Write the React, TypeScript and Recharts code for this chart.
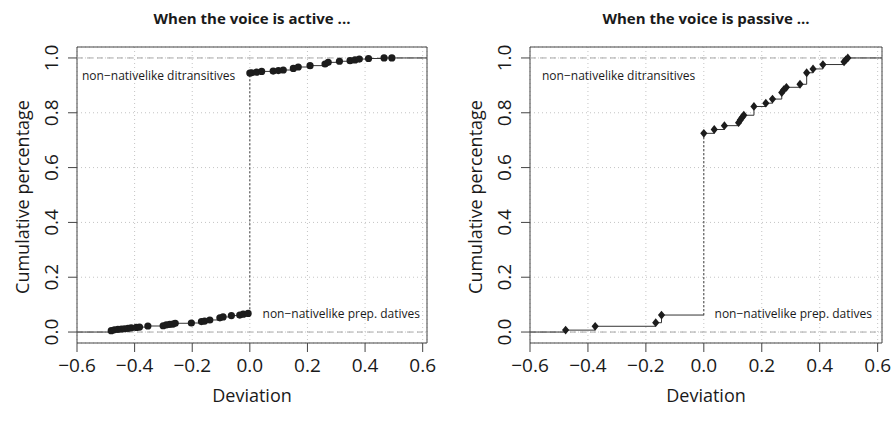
import React from 'react';
import { LineChart, Line, XAxis, YAxis, CartesianGrid, ReferenceLine, ReferenceArea } from 'recharts';

// ECDF of deviations
const activeNegX = [-0.481, -0.47, -0.458, -0.446, -0.435, -0.423, -0.412, -0.394, -0.383, -0.354, -0.301, -0.29, -0.278, -0.267, -0.259, -0.203, -0.168, -0.157, -0.139, -0.104, -0.093, -0.064, -0.035, -0.023, -0.006];
const activeNegF = [0.005, 0.008, 0.01, 0.011, 0.012, 0.013, 0.015, 0.017, 0.018, 0.022, 0.023, 0.026, 0.028, 0.029, 0.032, 0.033, 0.038, 0.04, 0.044, 0.052, 0.055, 0.06, 0.062, 0.065, 0.068];
const activePosX = [0.0, 0.006, 0.023, 0.041, 0.081, 0.099, 0.116, 0.151, 0.168, 0.209, 0.261, 0.272, 0.311, 0.348, 0.365, 0.38, 0.412, 0.466, 0.493];
const activePosF = [0.945, 0.946, 0.948, 0.951, 0.952, 0.954, 0.956, 0.962, 0.967, 0.972, 0.978, 0.984, 0.988, 0.99, 0.993, 0.996, 0.998, 1.0, 1.0];

const passiveNegX = [-0.477, -0.375, -0.166, -0.146];
const passiveNegF = [0.007, 0.021, 0.034, 0.062];
const passivePosX = [0.0, 0.036, 0.071, 0.12, 0.126, 0.132, 0.138, 0.173, 0.214, 0.237, 0.269, 0.276, 0.285, 0.332, 0.355, 0.377, 0.411, 0.484, 0.49, 0.497];
const passivePosF = [0.725, 0.739, 0.753, 0.764, 0.774, 0.783, 0.791, 0.823, 0.835, 0.85, 0.874, 0.884, 0.893, 0.904, 0.946, 0.96, 0.976, 0.986, 0.993, 1.0];

const X_TICKS = [-0.6, -0.4, -0.2, 0, 0.2, 0.4, 0.6];
const Y_TICKS = [0, 0.2, 0.4, 0.6, 0.8, 1];
const X_DOMAIN: [number, number] = [-0.6, 0.615];
const Y_DOMAIN: [number, number] = [-0.04, 1.04];

const FONT = '"Open Sans", sans-serif';
const fmt = (v: number) => v.toFixed(1).replace('-', '\u2212');

const XTick = (props: any) => (
  <text x={props.x} y={props.y + 18} textAnchor="middle" fontSize={19} fontFamily={FONT} fill="#1a1a1a">
    {fmt(props.payload.value)}
  </text>
);

const YTick = (props: any) => {
  const x = props.x - 8;
  return (
    <text x={x} y={props.y} transform={`rotate(-90 ${x} ${props.y})`} textAnchor="middle" fontSize={19} fontFamily={FONT} fill="#1a1a1a">
      {fmt(props.payload.value)}
    </text>
  );
};

const circleDot = (props: any) => {
  if (props.payload.ext) return <g key={props.index} />;
  return <circle key={props.index} cx={props.cx} cy={props.cy} r={3.6} fill="#1c1c1c" />;
};

const diamondDot = (props: any) => {
  if (props.payload.ext) return <g key={props.index} />;
  const { cx, cy } = props;
  return (
    <polygon
      key={props.index}
      points={`${cx},${cy - 4.4} ${cx + 3.6},${cy} ${cx},${cy + 4.4} ${cx - 3.6},${cy}`}
      fill="#1c1c1c"
    />
  );
};

function Panel({ negX, negF, posX, posF, dot, yAxisWidth, rightMargin }: any) {
  const negData = [
    { x: X_DOMAIN[0], F: 0, ext: true },
    ...negX.map((x: number, i: number) => ({ x, F: negF[i] })),
    { x: 0, F: negF[negF.length - 1], ext: true },
  ];
  const posData = [
    ...posX.map((x: number, i: number) => ({ x, F: posF[i] })),
    { x: X_DOMAIN[1], F: 1, ext: true },
  ];
  return (
    <LineChart width={447} height={421} margin={{ top: 47, right: rightMargin, bottom: 0, left: 0 }}>
      <CartesianGrid stroke="#c4c4c4" strokeDasharray="1 3" />
      <XAxis
        type="number"
        dataKey="x"
        domain={X_DOMAIN}
        ticks={X_TICKS}
        allowDataOverflow
        height={78}
        tickSize={9}
        axisLine={false}
        tickLine={{ stroke: '#444' }}
        tick={<XTick />}
        interval={0}
      />
      <YAxis
        type="number"
        domain={Y_DOMAIN}
        ticks={Y_TICKS}
        allowDataOverflow
        width={yAxisWidth}
        tickSize={9}
        axisLine={false}
        tickLine={{ stroke: '#444' }}
        tick={<YTick />}
        interval={0}
      />
      <ReferenceLine y={0} stroke="#a8a8a8" strokeDasharray="6 4" />
      <ReferenceLine y={1} stroke="#a8a8a8" strokeDasharray="6 4" />
      <Line data={negData} dataKey="F" type="stepAfter" stroke="#333" strokeWidth={1} dot={dot} isAnimationActive={false} />
      <Line data={posData} dataKey="F" type="stepAfter" stroke="#333" strokeWidth={1} dot={dot} isAnimationActive={false} />
      <ReferenceLine
        segment={[{ x: 0, y: negF[negF.length - 1] }, { x: 0, y: posF[0] }]}
        stroke="#333"
        strokeDasharray="2 2"
      />
      <ReferenceArea x1={X_DOMAIN[0]} x2={X_DOMAIN[1]} y1={Y_DOMAIN[0]} y2={Y_DOMAIN[1]} fill="none" stroke="#444" strokeWidth={1} />
    </LineChart>
  );
}

export default function App() {
  const txt = { fontFamily: FONT, fill: '#1a1a1a' };
  return (
    <div style={{ position: 'absolute', left: 0, top: 0, width: 894, height: 421, background: '#fff' }}>
      <div style={{ position: 'absolute', left: 0, top: 0 }}>
        <Panel negX={activeNegX} negF={activeNegF} posX={activePosX} posF={activePosF} dot={circleDot} yAxisWidth={77} rightMargin={20} />
      </div>
      <div style={{ position: 'absolute', left: 447, top: 0 }}>
        <Panel negX={passiveNegX} negF={passiveNegF} posX={passivePosX} posF={passivePosF} dot={diamondDot} yAxisWidth={83} rightMargin={12} />
      </div>
      <svg width={894} height={421} style={{ position: 'absolute', left: 0, top: 0, pointerEvents: 'none' }}>
        <text x={252} y={24} textAnchor="middle" fontSize={15} fontWeight="bold" {...txt}>When the voice is active ...</text>
        <text x={706} y={24} textAnchor="middle" fontSize={15} fontWeight="bold" {...txt}>When the voice is passive ...</text>
        <text x={29} y={197} transform="rotate(-90 29 197)" textAnchor="middle" fontSize={18} {...txt}>Cumulative percentage</text>
        <text x={482} y={197} transform="rotate(-90 482 197)" textAnchor="middle" fontSize={18} {...txt}>Cumulative percentage</text>
        <text x={252} y={402} textAnchor="middle" fontSize={18} {...txt}>Deviation</text>
        <text x={706} y={402} textAnchor="middle" fontSize={18} {...txt}>Deviation</text>
        <text x={82} y={80} fontSize={12} {...txt}>non{'\u2212'}nativelike ditransitives</text>
        <text x={542} y={80} fontSize={12} {...txt}>non{'\u2212'}nativelike ditransitives</text>
        <text x={420} y={318} textAnchor="end" fontSize={12} {...txt}>non{'\u2212'}nativelike prep. datives</text>
        <text x={872} y={318} textAnchor="end" fontSize={12} {...txt}>non{'\u2212'}nativelike prep. datives</text>
      </svg>
    </div>
  );
}
